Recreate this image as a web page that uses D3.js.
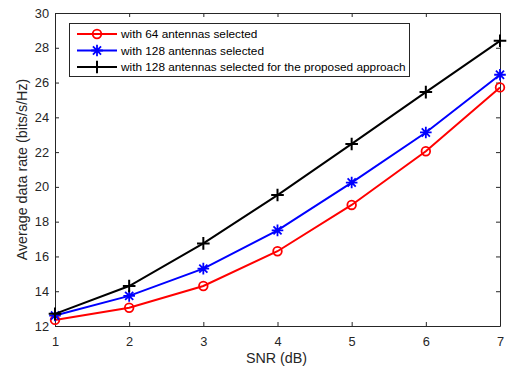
<!DOCTYPE html>
<html>
<head>
<meta charset="utf-8">
<script src="https://cdn.jsdelivr.net/npm/d3@7"></script>
<style>
  body { margin: 0; background: #fff; }
  svg { font-family: "Liberation Sans", Arial, sans-serif; }
</style>
</head>
<body>
<div id="chart"></div>
<script>
const snr = [1, 2, 3, 4, 5, 6, 7];
const rate64 = [12.35, 13.05, 14.3, 16.3, 18.96, 22.05, 25.72];
const rate128 = [12.6, 13.73, 15.3, 17.5, 20.25, 23.13, 26.45];
const rateProposed = [12.7, 14.3, 16.75, 19.53, 22.47, 25.45, 28.4];
const xTicks = [1, 2, 3, 4, 5, 6, 7];
const yTicks = [12, 14, 16, 18, 20, 22, 24, 26, 28, 30];
const seriesNames = [
  "with 64 antennas selected",
  "with 128 antennas selected",
  "with 128 antennas selected for the proposed approach"
];

const series = [
  { name: seriesNames[0], values: rate64, color: "#ff0000", marker: "circle" },
  { name: seriesNames[1], values: rate128, color: "#0000ff", marker: "star" },
  { name: seriesNames[2], values: rateProposed, color: "#000000", marker: "plus" }
];

const W = 511, H = 371;
const plotLeft = 55, plotRight = 500, plotTop = 13, plotBottom = 326;
const axisColor = "#262626";

const svg = d3.select("#chart").append("svg")
  .attr("width", W).attr("height", H);

const x = d3.scaleLinear().domain([1, 7]).range([plotLeft, plotRight]);
const y = d3.scaleLinear().domain([12, 30]).range([plotBottom, plotTop]);

// axes box with inward ticks
function styleAxis(g) {
  g.select(".domain").attr("stroke", axisColor);
  g.selectAll(".tick line").attr("stroke", axisColor);
  g.selectAll(".tick text").attr("fill", axisColor).style("font-size", "12.8px");
}

svg.append("g").attr("transform", `translate(0,${plotBottom})`)
  .call(d3.axisBottom(x).tickValues(xTicks).tickSizeInner(-4).tickSizeOuter(0).tickPadding(10.5).tickFormat(d3.format("d")))
  .call(styleAxis);
svg.append("g").attr("transform", `translate(0,${plotTop})`)
  .call(d3.axisTop(x).tickValues(xTicks).tickSizeInner(-4).tickSizeOuter(0).tickFormat(""))
  .call(styleAxis);
svg.append("g").attr("transform", `translate(${plotLeft},0)`)
  .call(d3.axisLeft(y).tickValues(yTicks).tickSizeInner(-4).tickSizeOuter(0).tickPadding(6))
  .call(styleAxis);
svg.append("g").attr("transform", `translate(${plotRight},0)`)
  .call(d3.axisRight(y).tickValues(yTicks).tickSizeInner(-4).tickSizeOuter(0).tickFormat(""))
  .call(styleAxis);

// axis labels
svg.append("text")
  .attr("x", (plotLeft + plotRight) / 2 - 1).attr("y", 363)
  .attr("text-anchor", "middle")
  .attr("fill", axisColor)
  .style("font-size", "14.3px")
  .text("SNR (dB)");

svg.append("text")
  .attr("transform", `translate(27,${(plotTop + plotBottom) / 2}) rotate(-90)`)
  .attr("text-anchor", "middle")
  .attr("fill", axisColor)
  .style("font-size", "14.3px")
  .text("Average data rate (bits/s/Hz)");

function drawMarker(g, type, color) {
  if (type === "circle") {
    g.append("circle").attr("r", 4.3).attr("fill", "none")
      .attr("stroke", color).attr("stroke-width", 1.8);
  } else if (type === "star") {
    const s = 5.8;
    g.append("path")
      .attr("d", `M${-s},0H${s}M0,${-s}V${s}M${-s * 0.7},${-s * 0.7}L${s * 0.7},${s * 0.7}M${-s * 0.7},${s * 0.7}L${s * 0.7},${-s * 0.7}`)
      .attr("stroke", color).attr("stroke-width", 1.8).attr("fill", "none");
  } else {
    const s = 6.3;
    g.append("path")
      .attr("d", `M${-s},0H${s}M0,${-s}V${s}`)
      .attr("stroke", color).attr("stroke-width", 2).attr("fill", "none");
  }
}

const line = d3.line().x((d, i) => x(snr[i])).y(d => y(d));

series.forEach(s => {
  svg.append("path")
    .datum(s.values)
    .attr("d", line)
    .attr("fill", "none")
    .attr("stroke", s.color)
    .attr("stroke-width", 2);
  s.values.forEach((v, i) => {
    const g = svg.append("g").attr("transform", `translate(${x(snr[i])},${y(v)})`);
    drawMarker(g, s.marker, s.color);
  });
});

// legend
const legend = svg.append("g");
legend.append("rect")
  .attr("x", 69.5).attr("y", 23.5).attr("width", 340).attr("height", 53)
  .attr("fill", "#fff").attr("stroke", axisColor).attr("stroke-width", 1);
series.forEach((s, i) => {
  const ly = 34 + i * 16.5;
  legend.append("line")
    .attr("x1", 77).attr("x2", 117).attr("y1", ly).attr("y2", ly)
    .attr("stroke", s.color).attr("stroke-width", 2);
  drawMarker(legend.append("g").attr("transform", `translate(97,${ly})`), s.marker, s.color);
  legend.append("text")
    .attr("x", 121).attr("y", ly + 4.3)
    .attr("fill", "#000")
    .style("font-size", "11.8px")
    .text(s.name);
});
</script>
</body>
</html>
